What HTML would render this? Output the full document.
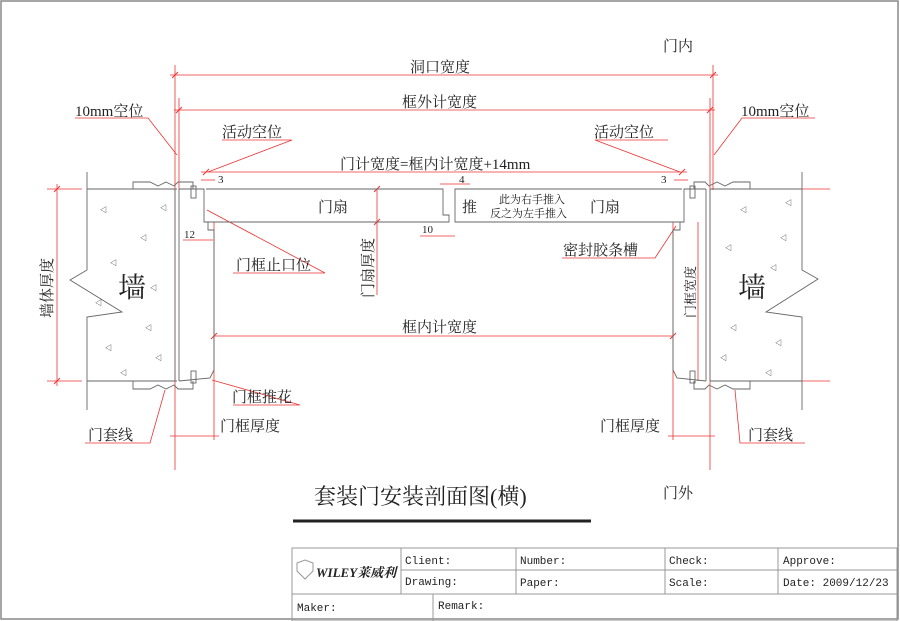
<!DOCTYPE html>
<html><head><meta charset="utf-8"><style>
body{margin:0;background:#fff}
svg{display:block}
text{font-family:"Liberation Serif","Noto Serif CJK SC",serif;fill:#222}
.m text{font-family:"Liberation Mono","Noto Sans CJK SC",monospace;font-size:11px}
</style></head><body>
<svg width="900" height="621" viewBox="0 0 900 621" xmlns="http://www.w3.org/2000/svg">
<rect x="1" y="1" width="897" height="618" fill="none" stroke="#888" stroke-width="1.5"/>
<g stroke="#e33" stroke-width="0.8" fill="none">
<line x1="175" y1="65" x2="175" y2="470"/><line x1="179" y1="98" x2="179" y2="190"/>
<line x1="710" y1="98" x2="710" y2="470"/><line x1="713" y1="65" x2="713" y2="190"/>
<line x1="214" y1="222" x2="214" y2="440"/><line x1="673" y1="222" x2="673" y2="440"/>
<line x1="170" y1="75" x2="718" y2="75"/>
<line x1="174" y1="110" x2="715" y2="110"/>
<line x1="201" y1="172" x2="687" y2="172"/>
<line x1="214" y1="336" x2="673" y2="336"/>
<line x1="57" y1="184" x2="57" y2="386"/>
<line x1="170" y1="436" x2="219" y2="436"/><line x1="668" y1="436" x2="715" y2="436"/>
<line x1="377" y1="189" x2="377" y2="295"/>
<line x1="698" y1="222" x2="698" y2="381"/>
<line x1="47" y1="189" x2="82" y2="189"/><line x1="47" y1="381" x2="82" y2="381"/>
<line x1="800" y1="189" x2="830" y2="189"/><line x1="800" y1="381" x2="830" y2="381"/>
<polyline points="75,118 148,118 177,155"/>
<polyline points="815,118 742,118 714,155"/>
<polyline points="222,140 292,140 208,172"/>
<polyline points="668,140 595,140 680,172"/>
<polyline points="233,273 325,273 207,210"/>
<polyline points="562,258 655,258 676,226"/>
<polyline points="233,405 300,405 212,380"/>
<polyline points="85,443 150,443 165,390"/>
<polyline points="805,443 740,443 735,390"/>
<polyline points="201,180 215,180"/><polyline points="674,180 688,180"/>
<polyline points="440,184 470,184"/><polyline points="420,236 455,236"/>
<polyline points="183,240 213,240"/>
</g>
<g stroke="#e33" stroke-width="1">
<line x1="172" y1="78" x2="178" y2="72"/><line x1="710" y1="78" x2="716" y2="72"/>
<line x1="176" y1="113" x2="182" y2="107"/><line x1="707" y1="113" x2="713" y2="107"/>
<line x1="203" y1="175" x2="209" y2="169"/><line x1="679" y1="175" x2="685" y2="169"/>
<line x1="211" y1="339" x2="217" y2="333"/><line x1="670" y1="339" x2="676" y2="333"/>
<line x1="54" y1="192" x2="60" y2="186"/><line x1="54" y1="384" x2="60" y2="378"/>
<line x1="374" y1="192" x2="380" y2="186"/><line x1="374" y1="225" x2="380" y2="219"/>
</g>
<g stroke="#666" stroke-width="0.9" fill="none">
<polyline points="87,172 87,270 70,280 122,312 87,317 87,410"/>
<polyline points="802,172 802,270 818,279 766,312 802,317 802,410"/>
<line x1="87" y1="189" x2="177" y2="189"/><line x1="87" y1="381" x2="177" y2="381"/>
<line x1="710" y1="189" x2="802" y2="189"/><line x1="710" y1="381" x2="802" y2="381"/>
<line x1="175" y1="189" x2="175" y2="381"/><line x1="179" y1="189" x2="179" y2="381"/>
<polyline points="179,189 204,189 204,222 208,222 208,230 214,230 214,370 210,378 179,381"/>
<line x1="710" y1="189" x2="710" y2="381"/><line x1="706" y1="189" x2="706" y2="381"/>
<polyline points="706,189 684,189 684,222 680,222 680,230 673,230 673,370 677,378 706,381"/>
<polyline points="206,189 443,189 443,215 449,215 449,222 206,222"/>
<polyline points="682,189 455,189 455,222 682,222"/>
<polyline points="133,189 133,182 150,182 158,186 166,182 174,186 178,182 193,182 193,189"/>
<polyline points="133,381 133,389 150,389 158,385 166,389 174,385 178,389 193,389 193,381"/>
<polyline points="750,189 750,182 733,182 725,186 717,182 709,186 705,182 694,182 694,189"/>
<polyline points="750,381 750,389 733,389 725,385 717,389 709,385 705,389 694,389 694,381"/>
<rect x="191" y="186" width="5" height="12"/><rect x="191" y="371" width="5" height="12"/>
<rect x="690" y="186" width="5" height="12"/><rect x="690" y="371" width="5" height="12"/>
</g>
<g fill="#777" font-size="7" font-family="DejaVu Sans">
<text x="100" y="212">◁</text><text x="140" y="240">◁</text><text x="110" y="265">◁</text><text x="150" y="290">◁</text><text x="95" y="305">◁</text><text x="145" y="330">◁</text><text x="105" y="350">◁</text><text x="155" y="360">◁</text><text x="120" y="375">◁</text><text x="160" y="210">◁</text>
<text x="740" y="212">◁</text><text x="780" y="240">◁</text><text x="725" y="250">◁</text><text x="770" y="270">◁</text><text x="730" y="330">◁</text><text x="775" y="345">◁</text><text x="720" y="360">◁</text><text x="765" y="375">◁</text><text x="785" y="205">◁</text>
</g>
<g font-size="15">
<text x="663" y="51">门内</text>
<text x="410" y="72">洞口宽度</text>
<text x="402" y="107">框外计宽度</text>
<text x="75" y="116">10mm空位</text>
<text x="741" y="116">10mm空位</text>
<text x="222" y="137">活动空位</text>
<text x="594" y="137">活动空位</text>
<text x="340" y="169">门计宽度=框内计宽度+14mm</text>
<text x="318" y="212">门扇</text>
<text x="590" y="212">门扇</text>
<text x="462" y="212">推</text>
<text x="236" y="270">门框止口位</text>
<text x="563" y="255">密封胶条槽</text>
<text x="402" y="332">框内计宽度</text>
<text x="232" y="402">门框推花</text>
<text x="88" y="440">门套线</text>
<text x="748" y="440">门套线</text>
<text x="220" y="431">门框厚度</text>
<text x="600" y="431">门框厚度</text>
<text x="663" y="498">门外</text>
</g>
<g font-size="11"><text x="218" y="183">3</text><text x="459" y="183">4</text><text x="661" y="183">3</text><text x="422" y="233">10</text><text x="184" y="238">12</text>
<text x="499" y="203">此为右手推入</text><text x="490" y="217">反之为左手推入</text></g>
<text x="118" y="297" font-size="28">墙</text><text x="738" y="297" font-size="28">墙</text>
<text font-size="15" transform="translate(52,318) rotate(-90)">墙体厚度</text>
<text font-size="15" transform="translate(373,298) rotate(-90)">门扇厚度</text>
<text font-size="13" transform="translate(695,318) rotate(-90)">门框宽度</text>
<text x="314" y="504" font-size="22">套装门安装剖面图(横)</text>
<line x1="293" y1="521" x2="591" y2="521" stroke="#222" stroke-width="3"/>
<g stroke="#999" stroke-width="1" fill="none">
<rect x="292" y="548" width="605" height="73"/>
<line x1="292" y1="594" x2="897" y2="594"/><line x1="401" y1="570" x2="897" y2="570"/>
<line x1="401" y1="548" x2="401" y2="594"/><line x1="516" y1="548" x2="516" y2="594"/>
<line x1="665" y1="548" x2="665" y2="594"/><line x1="778" y1="548" x2="778" y2="594"/>
<line x1="433" y1="594" x2="433" y2="621"/>
<path d="M297,563 l8,-3 l8,3 l0,8 q-8,8 -8,8 q0,0 -8,-8z"/>
</g>
<text x="316" y="577" font-size="13" font-style="italic" font-family="Liberation Sans,sans-serif" fill="#999" font-weight="bold">WILEY莱威利</text>
<g class="m"><text x="405" y="564">Client:</text><text x="520" y="564">Number:</text><text x="669" y="564">Check:</text><text x="783" y="564">Approve:</text>
<text x="405" y="585">Drawing:</text><text x="520" y="586">Paper:</text><text x="669" y="586">Scale:</text><text x="783" y="586">Date: 2009/12/23</text>
<text x="297" y="611">Maker:</text><text x="438" y="609">Remark:</text></g>
</svg>
</body></html>
